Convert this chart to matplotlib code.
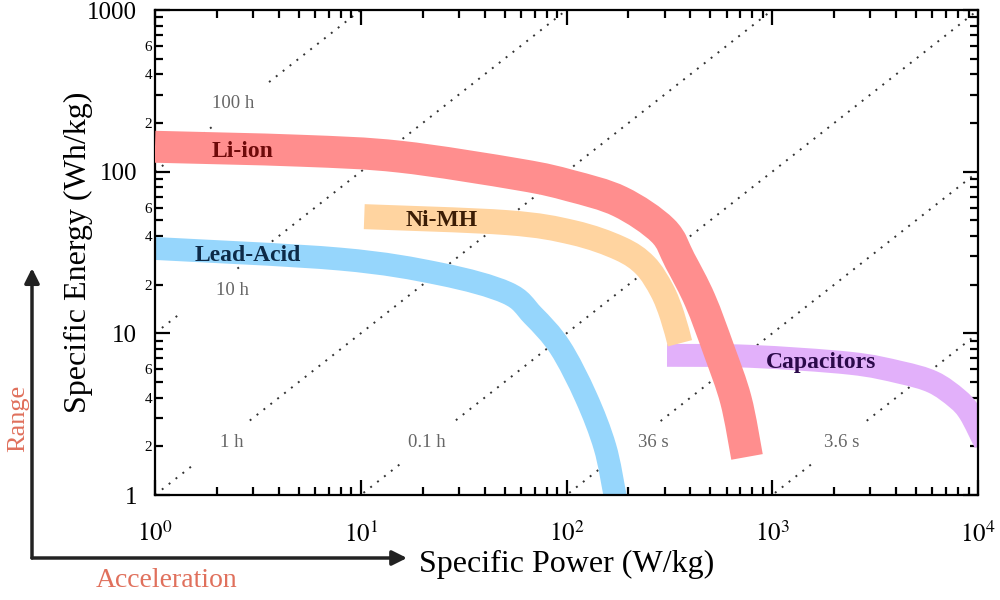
import numpy as np
import matplotlib
matplotlib.use('Agg')
import matplotlib.pyplot as plt
from matplotlib.patches import FancyArrowPatch, PathPatch
from matplotlib.path import Path
from matplotlib.ticker import FixedLocator, FixedFormatter, FuncFormatter, NullFormatter

plt.rcParams['font.family'] = ['Liberation Serif', 'DejaVu Serif']
plt.rcParams['mathtext.fontset'] = 'stix'

# Band centre lines: power (W/kg), energy (Wh/kg)
li_ion_p = [1, 5.07, 15.5, 59.4, 104, 182, 294, 356, 446, 551, 666, 754]
li_ion_e = [142.6, 134.8, 123.8, 95.8, 82, 65.3, 43.2, 28.2, 16.0, 7.85, 3.86, 1.72]
nimh_p = [10.4, 51.4, 107.6, 182, 241, 291, 326, 356]
nimh_e = [52.7, 48.4, 42.0, 33.5, 26.3, 18.4, 12.9, 8.68]
lead_p = [1, 7.93, 24.3, 51.4, 68.7, 93.0, 124.4, 153.8, 172, 178]
lead_e = [33.5, 28.8, 23.3, 17.8, 12.9, 8.2, 4.03, 1.98, 1.0, 0.81]
cap_p = [308, 780, 2388, 4176, 6043, 7907, 9144, 10820]
cap_e = [7.31, 7.21, 6.53, 5.74, 4.99, 3.95, 3.2, 2.1]

band_names = ['Li-ion', 'Ni-MH', 'Lead-Acid', 'Capacitors']
name_p = [2.65, 24.8, 2.83, 1726]
name_e = [133, 49.9, 30.3, 6.62]
name_colors = ['#6e0a0a', '#3b1d05', '#0d2a47', '#2b0a4a']

# constant discharge-time lines E = P * t (t in hours)
run_hours = [100, 10, 1, 0.1, 0.01, 0.001]
run_labels = ['100 h', '10 h', '1 h', '0.1 h', '36 s', '3.6 s']
run_label_p = [2.39, 2.37, 2.37, 21.0, 263, 2183]
run_label_e = [263, 18.4, 2.12, 2.12, 2.12, 2.12]

x_major = [1, 10, 100, 1000, 10000]
x_major_labels = ['$10^{0}$', '$10^{1}$', '$10^{2}$', '$10^{3}$', '$10^{4}$']
y_major = [1, 10, 100, 1000]
y_major_labels = ['1', '10', '100', '1000']


def smooth_band(xs, ys):
    # Bezier path through the read points (Catmull-Rom handles, log space)
    q = np.log10(np.column_stack([xs, ys]))
    ext = np.vstack([q[0], q, q[-1]])
    verts = [q[0]]
    codes = [Path.MOVETO]
    for i in range(1, len(ext) - 2):
        c1 = ext[i] + (ext[i + 1] - ext[i - 1]) / 6
        c2 = ext[i + 1] - (ext[i + 2] - ext[i]) / 6
        verts += [c1, c2, ext[i + 1]]
        codes += [Path.CURVE4] * 3
    return Path(10 ** np.array(verts), codes)


def main():
    fig = plt.figure(figsize=(10, 6), dpi=100)
    ax = fig.add_axes([0.155, 0.175, 0.823, 0.8083])
    ax.set_xscale('log')
    ax.set_yscale('log')
    ax.set_xlim(1, 1e4)
    ax.set_ylim(1, 1000)

    # dotted time lines, broken where the label sits
    p = np.logspace(0, 4, 600)
    for t, lab, lp, le in zip(run_hours, run_labels, run_label_p, run_label_e):
        e = p * t
        e = np.where(np.abs(np.log10(e) - np.log10(le)) < 0.13, np.nan, e)
        ax.plot(p, e, color='#333333', lw=1.4, linestyle=(0, (1, 3.5)), zorder=1)
        ax.text(lp, le, lab, ha='center', va='center', fontsize=13.5,
                color='#666666', zorder=4)

    # bands drawn as thick smooth strokes
    bands = [(cap_p, cap_e, '#e2b0fa', 16.5, 2),
             (lead_p, lead_e, '#96d6fc', 16.5, 2),
             (nimh_p, nimh_e, '#ffd4a0', 18, 2),
             (li_ion_p, li_ion_e, '#ff8e8e', 23, 3)]
    for xs, ys, c, w, z in bands:
        ax.add_patch(PathPatch(smooth_band(xs, ys), fill=False, edgecolor=c,
                               lw=w, capstyle='butt', joinstyle='round',
                               zorder=z))

    for name, x, y, c in zip(band_names, name_p, name_e, name_colors):
        ax.text(x, y, name, ha='center', va='center', fontsize=17,
                fontweight='bold', color=c, zorder=5)

    # ticks
    ax.xaxis.set_major_locator(FixedLocator(x_major))
    ax.xaxis.set_major_formatter(FixedFormatter(x_major_labels))
    ax.xaxis.set_minor_formatter(NullFormatter())
    ax.yaxis.set_major_locator(FixedLocator(y_major))
    ax.yaxis.set_major_formatter(FixedFormatter(y_major_labels))
    y_minor = [m * 10 ** k for k in range(3) for m in range(2, 10)]
    ax.yaxis.set_minor_locator(FixedLocator(y_minor))

    def minor_fmt(v, pos):
        m = int(round(v / 10 ** np.floor(np.log10(v) + 1e-9)))
        return str(m) if m in (2, 4, 6) else ''
    ax.yaxis.set_minor_formatter(FuncFormatter(minor_fmt))

    ax.tick_params(which='both', direction='in', top=True, right=True,
                   width=1.6, color='black')
    ax.tick_params(which='major', length=11)
    ax.tick_params(which='minor', length=6)
    ax.tick_params(axis='y', which='major', pad=13, labelsize=18)
    ax.tick_params(axis='y', which='minor', pad=2, labelsize=11)
    ax.tick_params(axis='x', which='major', pad=19, labelsize=18)
    for s in ax.spines.values():
        s.set_linewidth(1.6)

    ax.set_xlabel('Specific Power (W/kg)', fontsize=23, va='center')
    ax.xaxis.set_label_coords(0.5, -0.144)
    ax.set_ylabel('Specific Energy (Wh/kg)', fontsize=23, va='center')
    ax.yaxis.set_label_coords(-0.0936, 0.5)

    # range / acceleration arrows outside the axes
    for tip in [(0.032, 0.553), (0.407, 0.07)]:
        arr = FancyArrowPatch((0.032, 0.07), tip, arrowstyle='-|>',
                              mutation_scale=22, lw=2.5, color='#222222',
                              shrinkA=0, shrinkB=0, transform=fig.transFigure)
        fig.add_artist(arr)
    fig.text(0.018, 0.303, 'Range', rotation=90, ha='center', va='center',
             fontsize=19, color='#e0705c')
    fig.text(0.167, 0.033, 'Acceleration', ha='center', va='center',
             fontsize=20, color='#e0705c')

    fig.savefig('out.png', dpi=100)


if __name__ == '__main__':
    main()
